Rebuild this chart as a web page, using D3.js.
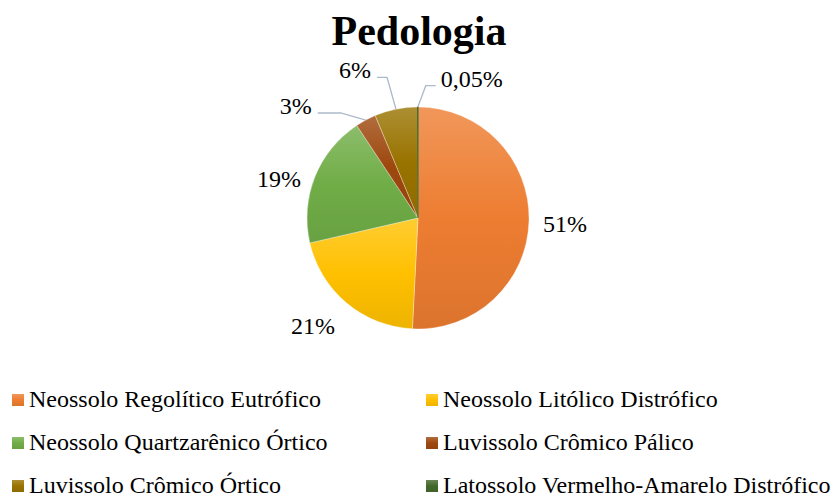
<!DOCTYPE html>
<html>
<head>
<meta charset="utf-8">
<script src="https://d3js.org/d3.v7.min.js"></script>
<style>
    body { margin: 0; background: #fff; }
    svg { display: block; }
    text { font-family: "Liberation Serif", "Times New Roman", serif; }
</style>
</head>
<body>
<script>
    // data
    var categories = [
        "Neossolo Regolítico Eutrófico",
        "Neossolo Litólico Distrófico",
        "Neossolo Quartzarênico Órtico",
        "Luvissolo Crômico Pálico",
        "Luvissolo Crômico Órtico",
        "Latossolo Vermelho-Amarelo Distrófico"
    ];
    var values = [50.8, 20.6, 19.3, 3.0, 6.25, 0.05];
    var valueLabels = ["51%", "21%", "19%", "3%", "6%", "0,05%"];
    var colors = ["#ED7D31", "#FFC000", "#70AD47", "#9E480E", "#997300", "#43682B"];

    var width = 837, height = 495;
    var cx = 418, cy = 218, r = 111;

    var svg = d3.select("body").append("svg")
        .attr("width", width)
        .attr("height", height);

    // gradients, lighter at top like the Excel fill
    var defs = svg.append("defs");
    colors.forEach(function(c, i) {
        var g = defs.append("linearGradient")
            .attr("id", "grad" + i)
            .attr("x1", 0).attr("y1", 0).attr("x2", 0).attr("y2", 1);
        g.append("stop").attr("offset", "0%").attr("stop-color", d3.interpolateRgb(c, "#fff")(0.2));
        g.append("stop").attr("offset", "50%").attr("stop-color", c);
        g.append("stop").attr("offset", "100%").attr("stop-color", d3.interpolateRgb(c, "#000")(0.07));
    });

    // title
    svg.append("text")
        .attr("x", 419)
        .attr("y", 45)
        .attr("text-anchor", "middle")
        .style("font-size", "42px")
        .style("font-weight", "bold")
        .text("Pedologia");

    var pie = d3.pie().sort(null).value(function(d) { return d; });
    var arcs = pie(values);
    var arc = d3.arc().innerRadius(0).outerRadius(r);

    var g = svg.append("g").attr("transform", "translate(" + cx + "," + cy + ")");

    g.selectAll("path.slice")
        .data(arcs)
        .enter().append("path")
        .attr("class", "slice")
        .attr("d", arc)
        .attr("fill", function(d, i) { return "url(#grad" + i + ")"; })
        .attr("stroke", function(d, i) { return d.value < 0.5 ? colors[i] : "rgba(255,255,255,0.5)"; })
        .attr("stroke-width", function(d) { return d.value < 0.5 ? 1.2 : 0.6; });

    // label placement: angle (deg, clockwise from top) and radius; elbow = callout line
    var labelPlace = [
        {angle: 92.3, radius: 147},
        {angle: 224.2, radius: 150.6},
        {angle: 285.7, radius: 144.4},
        {angle: 312.5, radius: 165.8, elbow: 23},
        {angle: 336.9, radius: 160.4, elbow: 10},
        {angle: 21.1, radius: 149.3, elbow: 10}
    ];

    function polar(angleDeg, rad) {
        var a = angleDeg * Math.PI / 180;
        return [rad * Math.sin(a), -rad * Math.cos(a)];
    }

    arcs.forEach(function(d, i) {
        var c = labelPlace[i];
        var pos = polar(c.angle, c.radius);

        var t = g.append("text")
            .attr("x", pos[0])
            .attr("y", pos[1] + 8)
            .attr("text-anchor", "middle")
            .style("font-size", "24px")
            .attr("fill", "#000")
            .text(valueLabels[i]);

        if (c.elbow) {
            var bb = t.node().getBBox();
            var mid = (d.startAngle + d.endAngle) / 2;
            var end = [r * Math.sin(mid), -r * Math.cos(mid)];
            var ly = pos[1] + 7;
            var sx = end[0] > pos[0] ? bb.x + bb.width + 6 : bb.x - 5;
            var ex = end[0] > pos[0] ? sx + c.elbow : sx - c.elbow;
            g.insert("polyline", "text")
                .attr("points", [[sx, ly], [ex, ly], end].map(function(p) { return p.join(","); }).join(" "))
                .attr("fill", "none")
                .attr("stroke", "#ADB9CA")
                .attr("stroke-width", 1.3);
        }
    });

    // legend
    var legendCols = [12, 426];
    var legendRows = [394, 437, 480];
    var legend = svg.selectAll("g.legend")
        .data(categories)
        .enter().append("g")
        .attr("class", "legend")
        .attr("transform", function(d, i) {
            return "translate(" + legendCols[i % 2] + "," + legendRows[Math.floor(i / 2)] + ")";
        });

    legend.append("rect")
        .attr("width", 12)
        .attr("height", 12)
        .attr("fill", function(d, i) { return "url(#grad" + i + ")"; });

    legend.append("text")
        .attr("x", 17)
        .attr("y", 13)
        .style("font-size", "24px")
        .text(function(d) { return d; });
</script>
</body>
</html>
